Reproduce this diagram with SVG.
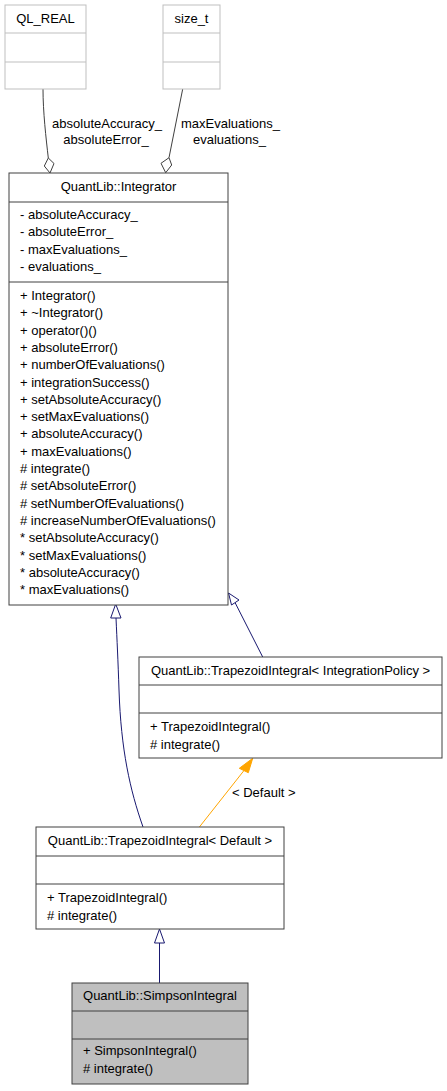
<svg xmlns="http://www.w3.org/2000/svg" width="447" height="1091" viewBox="0 0 447 1091">
<style>
text{font-family:"Liberation Sans",Arial,Helvetica,sans-serif;font-size:13px;fill:#000}
.c{text-anchor:middle}
.box{fill:#fff;stroke:#404040;stroke-width:1}
.ext{fill:#fff;stroke:#bfbfbf;stroke-width:1}
.cur{fill:#bfbfbf;stroke:#404040;stroke-width:1}
.dl{stroke:#404040;stroke-width:1}
.dg{stroke:#bfbfbf;stroke-width:1}
.inh{fill:none;stroke:#191970;stroke-width:1}
.inhh{fill:#fff;stroke:#191970;stroke-width:1}
.agg{fill:none;stroke:#404040;stroke-width:1}
.aggh{fill:#fff;stroke:#404040;stroke-width:1}
.tpl{fill:none;stroke:#ffa500;stroke-width:1}
.tplh{fill:#ffa500;stroke:#ffa500;stroke-width:1}
</style>
<rect width="447" height="1091" fill="#fff"/>
<g id="connectors">
<path class="agg" d="M43,89 C43,112 46,138 48.3,158"/>
<polygon class="aggh" points="48.3,158 54,163.5 50,173 44.3,166"/>
<path class="agg" d="M182.7,89 L169,157.7"/>
<polygon class="aggh" points="169,157.7 171.7,165 165.7,172.7 161,163.3"/>
<path class="inh" d="M143,827 C130,790 121,750 119,690 C118,660 117,640 116,618"/>
<polygon class="inhh" points="115.7,604 110.7,618 121,618"/>
<path class="inh" d="M262.7,657 L235,602.5"/>
<polygon class="inhh" points="228.5,593 239,600 231.5,605"/>
<path class="tpl" d="M199,827.5 L244,770.5"/>
<polygon class="tplh" points="252.7,758.3 239.3,768.3 248.3,772.7"/>
<path class="inh" d="M159.5,983 L159.5,943"/>
<polygon class="inhh" points="159.5,929 154.5,943 164.5,943"/>
<text x="107" y="128" class="c">absoluteAccuracy_</text>
<text x="106" y="144" class="c">absoluteError_</text>
<text x="230.5" y="128" class="c">maxEvaluations_</text>
<text x="229.5" y="144" class="c">evaluations_</text>
<text x="232" y="797">&lt; Default &gt;</text>
</g>
<g id="ql_real">
<rect class="ext" x="5" y="5" width="81" height="84"/>
<line class="dg" x1="5" y1="33" x2="86" y2="33"/>
<line class="dg" x1="5" y1="62" x2="86" y2="62"/>
<text x="45.5" y="23" class="c">QL_REAL</text>
</g>
<g id="size_t">
<rect class="ext" x="163" y="5" width="57" height="84"/>
<line class="dg" x1="163" y1="33" x2="220" y2="33"/>
<line class="dg" x1="163" y1="62" x2="220" y2="62"/>
<text x="191.5" y="23" class="c">size_t</text>
</g>
<g id="integrator">
<rect class="box" x="9" y="173" width="219" height="432"/>
<line class="dl" x1="9" y1="202" x2="228" y2="202"/>
<line class="dl" x1="9" y1="282" x2="228" y2="282"/>
<text x="118.5" y="191" class="c">QuantLib::Integrator</text>
<text x="20" y="219">- absoluteAccuracy_</text>
<text x="20" y="236.3">- absoluteError_</text>
<text x="20" y="253.6">- maxEvaluations_</text>
<text x="20" y="270.9">- evaluations_</text>
<text x="20" y="300">+ Integrator()</text>
<text x="20" y="317.3">+ ~Integrator()</text>
<text x="20" y="334.6">+ operator()()</text>
<text x="20" y="351.9">+ absoluteError()</text>
<text x="20" y="369.2">+ numberOfEvaluations()</text>
<text x="20" y="386.5">+ integrationSuccess()</text>
<text x="20" y="403.8">+ setAbsoluteAccuracy()</text>
<text x="20" y="421.1">+ setMaxEvaluations()</text>
<text x="20" y="438.4">+ absoluteAccuracy()</text>
<text x="20" y="455.7">+ maxEvaluations()</text>
<text x="20" y="473">#&#160;integrate()</text>
<text x="20" y="490.3">#&#160;setAbsoluteError()</text>
<text x="20" y="507.6">#&#160;setNumberOfEvaluations()</text>
<text x="20" y="524.9">#&#160;increaseNumberOfEvaluations()</text>
<text x="20" y="542.2">* setAbsoluteAccuracy()</text>
<text x="20" y="559.5">* setMaxEvaluations()</text>
<text x="20" y="576.8">* absoluteAccuracy()</text>
<text x="20" y="594.1">* maxEvaluations()</text>
</g>
<g id="trapezoid_policy">
<rect class="box" x="139" y="657" width="303" height="101"/>
<line class="dl" x1="139" y1="685" x2="442" y2="685"/>
<line class="dl" x1="139" y1="713" x2="442" y2="713"/>
<text x="290.5" y="675" class="c">QuantLib::TrapezoidIntegral&lt; IntegrationPolicy &gt;</text>
<text x="150" y="731">+ TrapezoidIntegral()</text>
<text x="150" y="748.5">#&#160;integrate()</text>
</g>
<g id="trapezoid_default">
<rect class="box" x="36" y="827" width="248" height="102"/>
<line class="dl" x1="36" y1="856" x2="284" y2="856"/>
<line class="dl" x1="36" y1="884" x2="284" y2="884"/>
<text x="160" y="845" class="c">QuantLib::TrapezoidIntegral&lt; Default &gt;</text>
<text x="47" y="902">+ TrapezoidIntegral()</text>
<text x="47" y="919.5">#&#160;integrate()</text>
</g>
<g id="simpson">
<rect class="cur" x="72" y="983" width="176" height="101"/>
<line class="dl" x1="72" y1="1011" x2="248" y2="1011"/>
<line class="dl" x1="72" y1="1039" x2="248" y2="1039"/>
<text x="160" y="1000" class="c">QuantLib::SimpsonIntegral</text>
<text x="83" y="1055">+ SimpsonIntegral()</text>
<text x="83" y="1073">#&#160;integrate()</text>
</g>
</svg>
